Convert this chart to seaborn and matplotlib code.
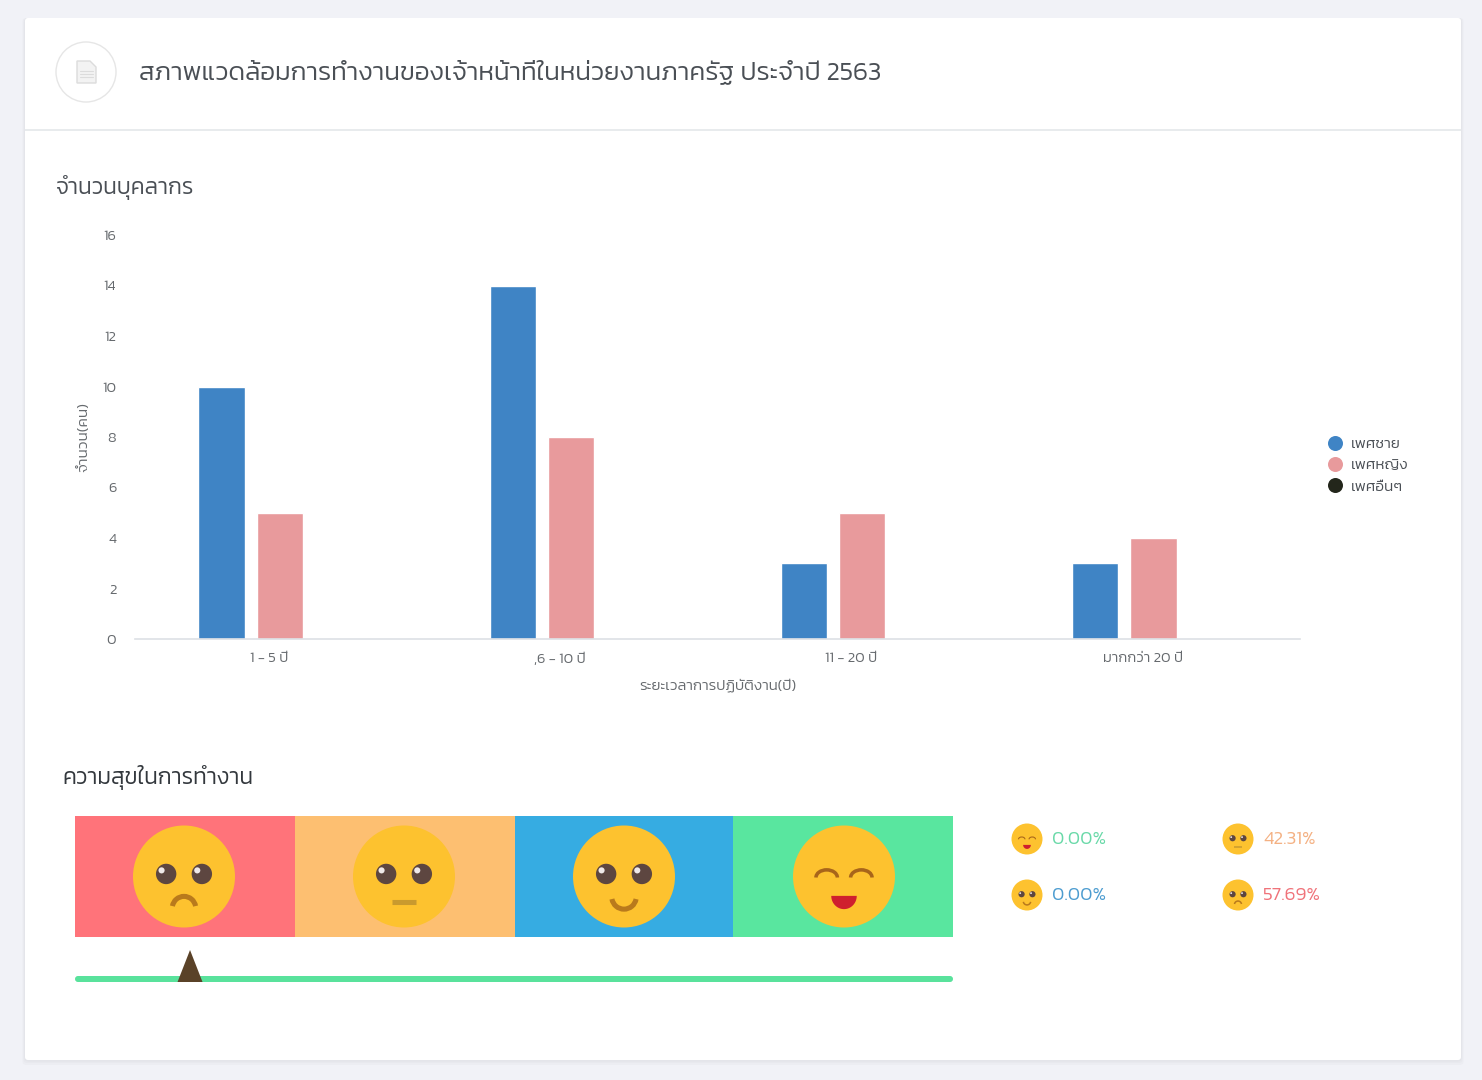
import numpy as np
import pandas as pd
import matplotlib
matplotlib.use('Agg')
import matplotlib.pyplot as plt
import seaborn as sns
from matplotlib.lines import Line2D
from matplotlib.patches import Circle, Rectangle, FancyBboxPatch, Polygon, Arc
from matplotlib.transforms import ScaledTranslation

sns.set_theme(style='white')
plt.rcParams['font.family'] = ['Kanit', 'DejaVu Sans']
plt.rcParams['font.weight'] = 300

W, H = 1482, 1080

# Chart values
periods = ['1 - 5 ปี', ',6 - 10 ปี', '11 - 20 ปี', 'มากกว่า 20 ปี']
male = [10, 14, 3, 3]
female = [5, 8, 5, 4]
other = [0, 0, 0, 0]
genders = ['เพศชาย', 'เพศหญิง', 'เพศอื่นๆ']
gender_colors = ['#3F84C5', '#E89A9C', '#23261B']
y_ticks = [0, 2, 4, 6, 8, 10, 12, 14, 16]

# Happiness values
happy_pct = ['0.00%', '42.31%', '0.00%', '57.69%']
happy_colors = ['#69D9A8', '#F4B183', '#4C9CD0', '#F0737A']
happy_moods = ['great', 'meh', 'good', 'sad']
strip_moods = ['sad', 'meh', 'good', 'great']
strip_colors = ['#FF737A', '#FDBF71', '#36ACE2', '#59E69F']
strip_edges = [75, 295, 515, 733, 953]
strip_faces = [184, 404, 624, 844]
happy_score = 0.131

df = pd.DataFrame({
    'period': periods * 3,
    'gender': np.repeat(genders, 4),
    'people': male + female + other,
})


def px_axes(left, top, right, bottom):
    return fig.add_axes([left / W, 1 - bottom / H, (right - left) / W, (bottom - top) / H])


def draw_face(ax, cx, cy, r, mood):
    # emoji face, sizes relative to the radius
    ax.add_patch(Circle((cx, cy), r, fc='#FDC22F', ec='none', zorder=3))
    if mood == 'great':
        for dx in (-0.34, 0.34):
            ax.add_patch(Arc((cx + dx * r, cy + 0.02 * r), 0.42 * r, 0.3 * r, theta1=180, theta2=360,
                             ec='#A8651A', lw=r / 20, zorder=4))
        t = np.linspace(0, np.pi, 30)
        mouth = np.column_stack([cx + 0.25 * r * np.cos(t), cy + 0.38 * r + 0.26 * r * np.sin(t)])
        ax.add_patch(Polygon(mouth, fc='#CF1F2E', ec='none', zorder=4))
        return
    for dx in (-0.35, 0.35):
        ax.add_patch(Circle((cx + dx * r, cy - 0.05 * r), 0.2 * r, fc='#5D4640', ec='none', zorder=4))
        ax.add_patch(Circle((cx + (dx - 0.09) * r, cy - 0.12 * r), 0.06 * r, fc='#EFE8E8', ec='none', zorder=5))
    lw = r / 14
    if mood == 'sad':
        ax.add_patch(Arc((cx, cy + 0.62 * r), 0.46 * r, 0.46 * r, theta1=190, theta2=350,
                         ec='#B97A1C', lw=lw, zorder=4))
    elif mood == 'meh':
        ax.plot([cx - 0.24 * r, cx + 0.24 * r], [cy + 0.5 * r, cy + 0.5 * r], color='#C99A2E', lw=lw,
                solid_capstyle='butt', zorder=4)
    else:
        ax.add_patch(Arc((cx, cy + 0.4 * r), 0.48 * r, 0.48 * r, theta1=10, theta2=170,
                         ec='#B97A1C', lw=lw, zorder=4))


fig = plt.figure(figsize=(W / 100, H / 100), dpi=100, facecolor='#F1F2F7')

# Page layer in pixel coordinates
page = fig.add_axes([0, 0, 1, 1], zorder=0)
page.set_xlim(0, W)
page.set_ylim(H, 0)
page.axis('off')

for grow, col in ((5, '#ECEDF2'), (3, '#E8E9EE'), (1.5, '#E4E5EA')):
    page.add_patch(FancyBboxPatch((25 - grow / 2, 18), 1436 + grow, 1042 + grow,
                                  boxstyle='round,pad=0,rounding_size=4', fc=col, ec='none'))
page.add_patch(FancyBboxPatch((25, 18), 1436, 1042, boxstyle='round,pad=0,rounding_size=3',
                              fc='white', ec='none'))
page.plot([25, 1461], [129.5, 129.5], color='#E4E7EA', lw=1.2)

# Header icon
page.add_patch(Circle((86, 72), 30, fc='white', ec='#E6E6E6', lw=1))
page.add_patch(Polygon([(77, 61), (90, 61), (96, 67), (96, 83), (77, 83)], fc='#F3F3F3', ec='#DCDCDC', lw=1))
for yy in (71, 74, 77):
    page.plot([80, 93], [yy, yy], color='#DCDCDC', lw=0.8)

page.text(139, 72.5, 'สภาพแวดล้อมการทำงานของเจ้าหน้าที่ในหน่วยงานภาครัฐ ประจำปี 2563',
          fontsize=18.8, color='#4A4F55', va='center', ha='left')
page.text(56, 187, 'จำนวนบุคลากร', fontsize=16.4, color='#4A4F55', va='center', ha='left')
page.text(62, 778, 'ความสุขในการทำงาน', fontsize=16.4, color='#33383D', va='center', ha='left')

# Happiness strip
for i, col in enumerate(strip_colors):
    page.add_patch(Rectangle((strip_edges[i], 816), strip_edges[i + 1] - strip_edges[i], 121, fc=col, ec='none'))
    draw_face(page, strip_faces[i], 876.5, 51, strip_moods[i])

page.add_patch(FancyBboxPatch((75, 976), 878, 6, boxstyle='round,pad=0,rounding_size=3',
                              fc='#59E29C', ec='none'))
tip = 75 + happy_score * 878
page.add_patch(Polygon([(tip - 12.5, 982), (tip + 12.5, 982), (tip, 950)], fc='#5A4228', ec='none', zorder=3))

# Happiness percentages
for (cx, cy), pct, col, mood in zip([(1027, 839), (1238, 839), (1027, 895), (1238, 895)],
                                    happy_pct, happy_colors, happy_moods):
    draw_face(page, cx, cy, 15.5, mood)
    page.text(cx + 25, cy, pct, fontsize=13.7, color=col, va='center', ha='left')

# Bar chart
ax = px_axes(135, 235, 1300, 639)
ax.set_zorder(1)
ax.patch.set_alpha(0)
sns.barplot(data=df, x='period', y='people', hue='gender', order=periods, hue_order=genders,
            palette=gender_colors, width=0.6, gap=0.21, saturation=1, legend=False, ax=ax)
ax.set_xlim(-0.497, 3.503)
ax.set_ylim(0, 16)
ax.set_yticks(y_ticks)
ax.tick_params(axis='both', length=0, colors='#666A6E', labelsize=10.6)
ax.tick_params(axis='y', pad=13.5)
ax.tick_params(axis='x', pad=9.5)
# the source labels sit a bit left of the middle bar
for lab in ax.get_xticklabels():
    lab.set_transform(lab.get_transform() + ScaledTranslation(-11 / 100, 0, fig.dpi_scale_trans))
sns.despine(ax=ax, left=True)
ax.spines['bottom'].set_color('#DDE0E5')
ax.spines['bottom'].set_linewidth(1.2)
ax.set_xlabel('')
ax.set_ylabel('')
page.text(718, 686, 'ระยะเวลาการปฏิบัติงาน(ปี)', fontsize=10.9, color='#666A6E', va='center', ha='center')
page.text(84, 437, 'จำนวน(คน)', fontsize=11.1, color='#666A6E', va='center', ha='center', rotation=90)

handles = [Line2D([], [], ls='', marker='o', ms=10.8, mew=0, color=c) for c in gender_colors]
fig.legend(handles, genders, loc='center left', bbox_to_anchor=(1320 / W, 1 - 465.5 / H), frameon=False,
           fontsize=11, labelcolor='#4A4F55', handletextpad=0.05, labelspacing=0.5, borderpad=0,
           borderaxespad=0)

fig.savefig('out.png', dpi=100, facecolor=fig.get_facecolor())
